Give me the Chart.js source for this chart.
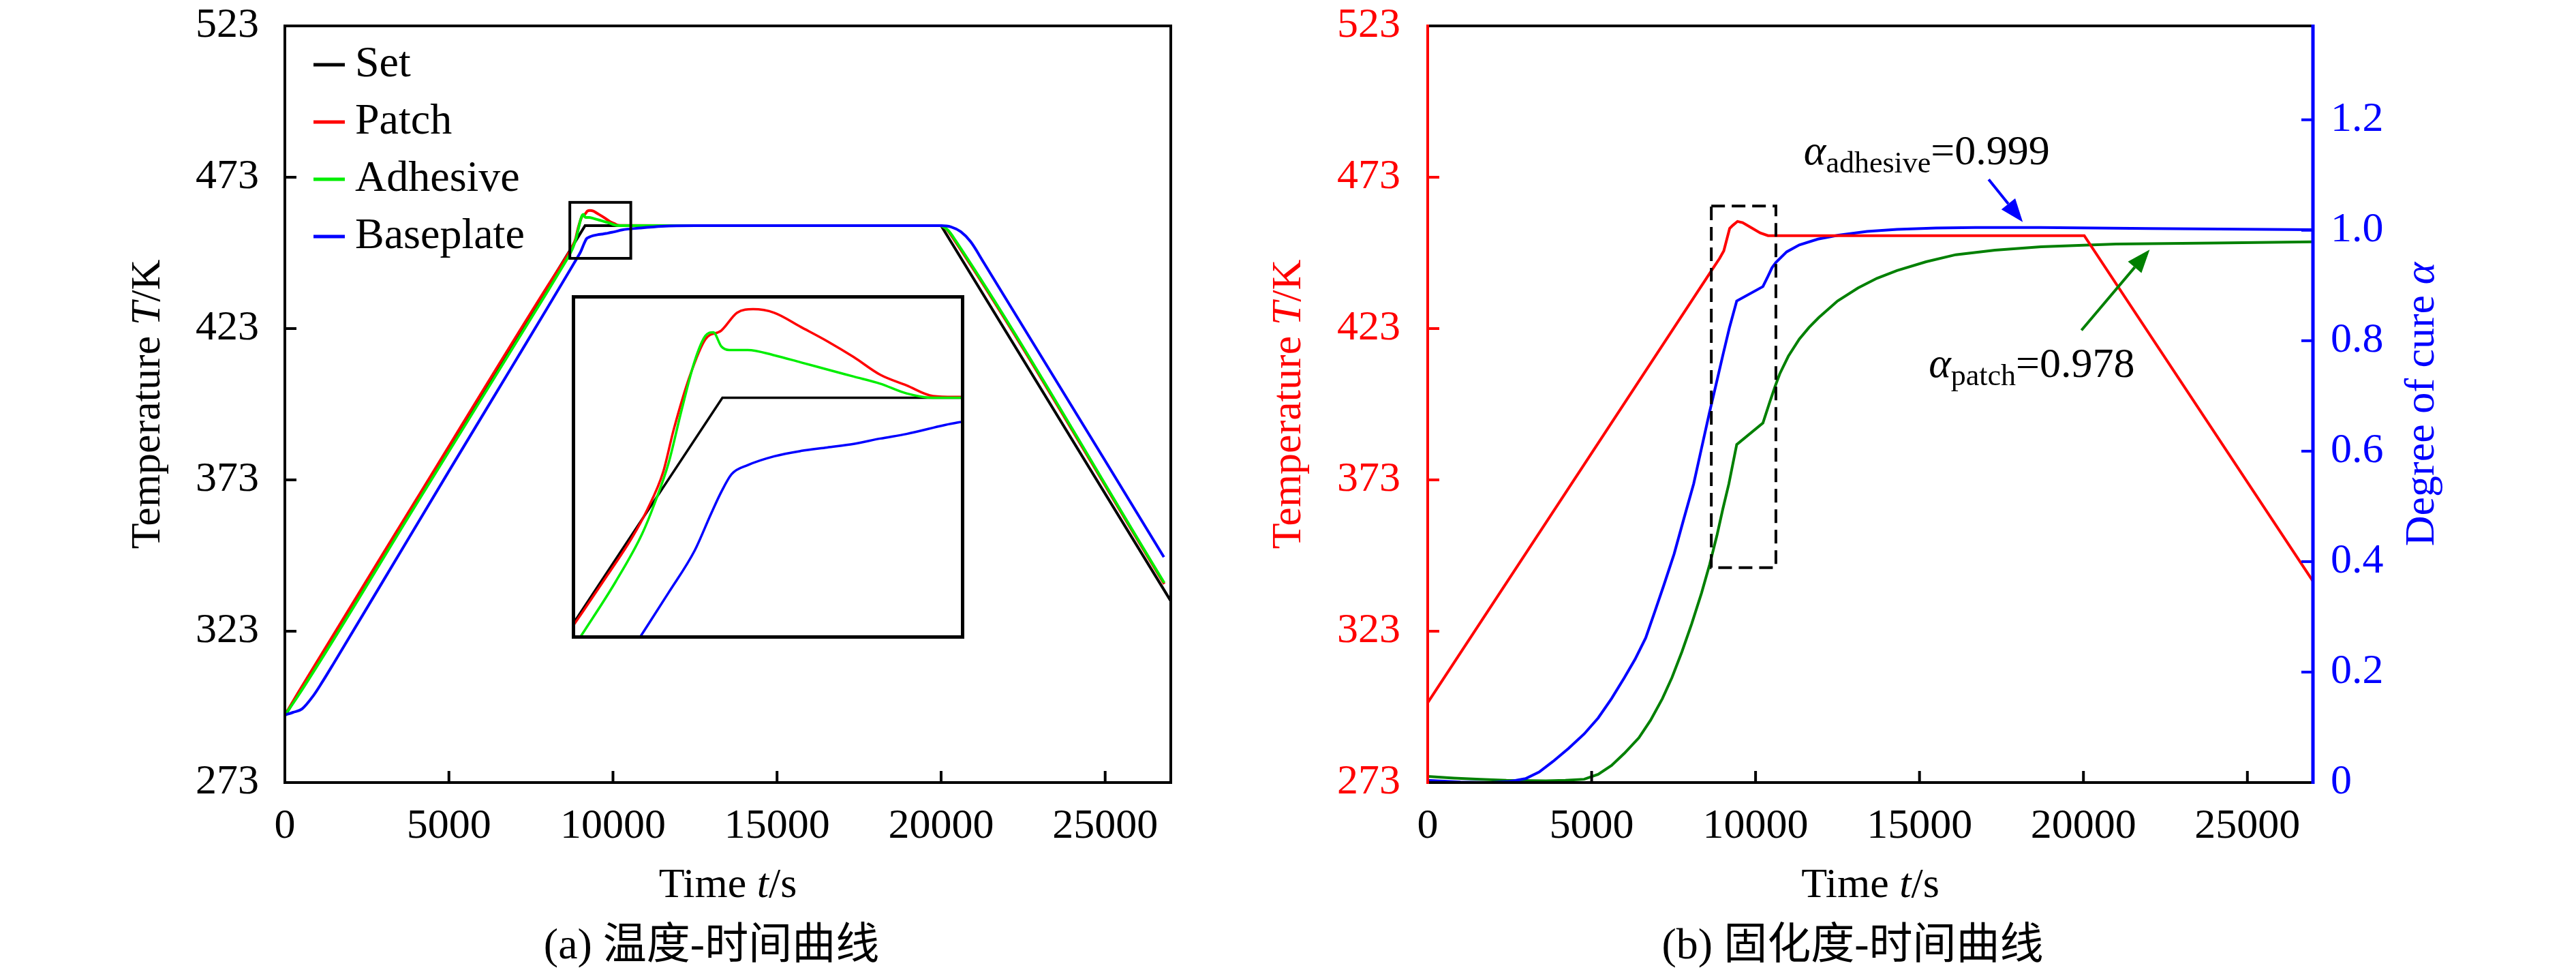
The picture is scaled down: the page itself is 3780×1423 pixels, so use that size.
<!DOCTYPE html>
<html>
<head>
<meta charset="utf-8">
<script src="https://cdn.jsdelivr.net/npm/chart.js@4.4.1/dist/chart.umd.min.js"></script>
<style>
  html, body { margin: 0; padding: 0; background: #fff; }
  body { width: 3780px; height: 1423px; position: relative; overflow: hidden; }
  canvas { position: absolute; }
</style>
</head>
<body>
<canvas id="tempChart" width="1850" height="1423" style="left:0;top:0;"></canvas>
<canvas id="zoomChart" width="576" height="504" style="left:839px;top:433px;"></canvas>
<canvas id="cureChart" width="1980" height="1423" style="left:1800px;top:0;"></canvas>
<script>
// ---- (a) temperature - time ----
var setTime = [0, 9150, 20000, 27000];
var setTemp = [295, 457, 457, 333];

var patchTime = [0, 400, 4000, 8000, 8481, 8596, 8711, 8788, 8864, 8915, 8992, 9068, 9145, 9221, 9298, 9400, 9528, 9655, 9783, 9911, 10038, 10166, 10281, 12000, 19950, 20150, 20400, 26800];
var patchTemp = [295.3, 302.6, 366.4, 436.9, 445.0, 447.0, 449.05, 450.7, 452.8, 455.2, 458.2, 460.3, 460.8, 461.8, 462.0, 461.8, 461.0, 460.2, 459.3, 458.3, 457.7, 457.1, 457.05, 457.0, 457.0, 456.0, 452.3, 338.6];

var adhesiveTime = [0, 400, 4000, 8000, 8487, 8634, 8762, 8825, 8890, 8953, 9017, 9068, 9106, 9145, 9183, 9272, 9400, 9528, 9655, 9783, 9911, 10038, 10166, 12000, 19950, 20200, 20450, 26800];
var adhesiveTemp = [295.3, 301.6, 364.9, 435.2, 443.9, 446.6, 449.3, 451.1, 453.3, 456.3, 459.1, 460.5, 460.7, 459.9, 459.7, 459.7, 459.4, 459.0, 458.6, 458.2, 457.8, 457.25, 457.0, 457.0, 457.0, 455.6, 451.9, 339.0];

var baseTime = [0, 250, 520, 875, 1145, 1500, 3000, 5000, 7000, 8000, 8775, 8890, 9017, 9093, 9145, 9195, 9272, 9400, 9528, 9655, 9783, 9911, 10038, 10281, 10800, 11500, 12500, 20000, 20300, 20600, 20900, 21300, 26790];
var baseTemp = [295.3, 296.2, 297.3, 301.8, 306.3, 312.6, 339.7, 375.9, 411.8, 429.8, 443.9, 446.0, 448.4, 450.4, 451.7, 452.7, 453.2, 453.7, 454.0, 454.2, 454.4, 454.7, 454.96, 455.6, 456.2, 456.8, 457.0, 457.0, 456.6, 455.0, 451.7, 444.8, 347.5];

var seriesNames = ['Set', 'Patch', 'Adhesive', 'Baseplate'];

// tick labels
var timeTicks = [0, 5000, 10000, 15000, 20000, 25000];
var tempTicks = [273, 323, 373, 423, 473, 523];
var cureTicks = [0, 0.2, 0.4, 0.6, 0.8, 1.0, 1.2];

// window shown in the magnified inset, and the small box marking it
var zoomWinTime = [8440, 10300];
var zoomWinTemp = [443.6, 462.6];
var zoomBoxTime = [8685, 10543];
var zoomBoxTemp = [446.2, 464.7];

// ---- (b) degree of cure - time ----
var cureTempTime = [0, 8664, 8903, 9031, 9126, 9210, 9305, 9449, 9604, 9842, 10141, 10380, 20025, 27000];
var cureTempK = [299.4, 442.3, 446.2, 448.7, 452.6, 456.1, 457.1, 458.4, 458.0, 456.5, 454.6, 453.7, 453.7, 339.5];

var alphaAdhTime = [0, 1000, 1909, 2500, 2983, 3400, 3818, 4300, 4772, 5200, 5607, 6000, 6323, 6650, 6919, 7200, 7516, 7800, 8112, 8350, 8590, 8800, 9007, 9200, 9425, 10224, 10380, 10500, 10618, 10950, 11334, 11900, 12527, 13400, 14316, 15500, 16700, 18700, 22000, 27000];
var alphaAdh = [0.004, 0.001, 0.0, 0.002, 0.007, 0.019, 0.038, 0.062, 0.088, 0.117, 0.152, 0.19, 0.223, 0.262, 0.308, 0.357, 0.414, 0.475, 0.541, 0.605, 0.669, 0.722, 0.775, 0.823, 0.872, 0.898, 0.917, 0.932, 0.9415, 0.961, 0.9735, 0.984, 0.991, 0.998, 1.0017, 1.004, 1.005, 1.005, 1.003, 1.001];

var alphaPatchTime = [0, 800, 1600, 2400, 3600, 4200, 4772, 5200, 5607, 6000, 6442, 6800, 7158, 7450, 7755, 8050, 8351, 8600, 8828, 9000, 9186, 9300, 9425, 10224, 10439, 10600, 10737, 11000, 11334, 11630, 11930, 12500, 13123, 13700, 14316, 15200, 16106, 17300, 18706, 21000, 24000, 27000];
var alphaPatch = [0.011, 0.008, 0.006, 0.004, 0.003, 0.004, 0.006, 0.015, 0.031, 0.053, 0.081, 0.113, 0.152, 0.19, 0.237, 0.287, 0.343, 0.395, 0.449, 0.495, 0.541, 0.575, 0.612, 0.651, 0.69, 0.718, 0.74, 0.772, 0.803, 0.824, 0.842, 0.872, 0.8955, 0.913, 0.927, 0.943, 0.9557, 0.964, 0.970, 0.975, 0.977, 0.979];

var cureBoxTime = [8650, 10620];
var cureBoxAlpha = [0.389, 1.044];

var serif = '"Liberation Serif", "Times New Roman", serif';
var cjk = '"Liberation Serif", "Noto Sans CJK SC", sans-serif';

function pts(xs, ys) {
  return xs.map(function (x, i) { return { x: x, y: ys[i] }; });
}

function line(label, xs, ys, color, width, order, axis, smooth) {
  var ds = {
    label: label,
    data: pts(xs, ys),
    borderColor: color,
    backgroundColor: color,
    borderWidth: width,
    pointRadius: 0,
    tension: 0,
    fill: false,
    order: order
  };
  if (axis) ds.yAxisID = axis;
  if (smooth) ds.cubicInterpolationMode = 'monotone';
  return ds;
}

function tempDatasets(width, smooth) {
  return [
    line(seriesNames[0], setTime, setTemp, '#000000', width, 3),
    line(seriesNames[1], patchTime, patchTemp, '#ff0000', width, 2, null, smooth),
    line(seriesNames[2], adhesiveTime, adhesiveTemp, '#00ee00', width, 1, null, smooth),
    line(seriesNames[3], baseTime, baseTemp, '#0000ff', width, 0, null, smooth)
  ];
}

function fontOf(p) {
  return (p.italic ? 'italic ' : '') + (p.size || 62) + 'px ' + (p.family || serif);
}

function drawRich(ctx, parts, x, y, align, angle, color, baseline) {
  ctx.save();
  ctx.translate(x, y);
  if (angle) ctx.rotate(angle);
  ctx.fillStyle = color;
  ctx.textBaseline = baseline || 'alphabetic';
  ctx.textAlign = 'left';
  var w = 0;
  parts.forEach(function (p) { ctx.font = fontOf(p); w += ctx.measureText(p.text).width; });
  var cx = align === 'center' ? -w / 2 : 0;
  parts.forEach(function (p) {
    ctx.font = fontOf(p);
    ctx.fillText(p.text, cx, p.dy || 0);
    cx += ctx.measureText(p.text).width;
  });
  ctx.restore();
}

function seg(ctx, x1, y1, x2, y2, color, width) {
  ctx.beginPath();
  ctx.strokeStyle = color;
  ctx.lineWidth = width;
  ctx.moveTo(x1, y1);
  ctx.lineTo(x2, y2);
  ctx.stroke();
}

// inward tick marks, skipping the ends of the axis
function innerTicks(ctx, chart, scaleId, side, color) {
  var s = chart.scales[scaleId];
  var a = chart.chartArea;
  var len = 17;
  s.ticks.forEach(function (t) {
    if (t.value === s.min || t.value === s.max) return;
    var p = s.getPixelForValue(t.value);
    if (side === 'bottom') seg(ctx, p, a.bottom, p, a.bottom - len, color, 4);
    if (side === 'left') seg(ctx, a.left, p, a.left + len, p, color, 4);
    if (side === 'right') seg(ctx, a.right, p, a.right - len, p, color, 4);
  });
}

function arrow(ctx, x1, y1, x2, y2, color) {
  var ang = Math.atan2(y2 - y1, x2 - x1);
  var head = 34, half = 13;
  var bx = x2 - head * Math.cos(ang), by = y2 - head * Math.sin(ang);
  seg(ctx, x1, y1, bx, by, color, 4);
  ctx.beginPath();
  ctx.fillStyle = color;
  ctx.moveTo(x2, y2);
  ctx.lineTo(bx + half * Math.sin(ang), by - half * Math.cos(ang));
  ctx.lineTo(bx - half * Math.sin(ang), by + half * Math.cos(ang));
  ctx.closePath();
  ctx.fill();
}

var tempDecor = {
  id: 'tempDecor',
  afterDraw: function (chart) {
    var ctx = chart.ctx, a = chart.chartArea;
    var xs = chart.scales.x, ys = chart.scales.y;
    ctx.save();
    // marker box of the magnified region
    ctx.strokeStyle = '#000';
    ctx.lineWidth = 4;
    var bx1 = xs.getPixelForValue(zoomBoxTime[0]), bx2 = xs.getPixelForValue(zoomBoxTime[1]);
    var by1 = ys.getPixelForValue(zoomBoxTemp[1]), by2 = ys.getPixelForValue(zoomBoxTemp[0]);
    ctx.strokeRect(bx1, by1, bx2 - bx1, by2 - by1);
    // frame + ticks
    ctx.strokeRect(a.left, a.top, a.right - a.left, a.bottom - a.top);
    innerTicks(ctx, chart, 'x', 'bottom', '#000');
    innerTicks(ctx, chart, 'y', 'left', '#000');
    // legend
    chart.data.datasets.forEach(function (ds, i) {
      var yy = 95 + i * 84;
      seg(ctx, 460, yy, 506, yy, ds.borderColor, 5);
      drawRich(ctx, [{ text: ds.label, size: 64 }], 521, yy, 'left', 0, '#000', 'middle');
    });
    // titles
    var cx = (a.left + a.right) / 2;
    drawRich(ctx, [{ text: 'Temperature ' }, { text: 'T', italic: true }, { text: '/K' }], 218, (a.top + a.bottom) / 2, 'center', -Math.PI / 2, '#000', 'middle');
    drawRich(ctx, [{ text: 'Time ' }, { text: 't', italic: true }, { text: '/s' }], cx, 1316, 'center', 0, '#000');
    drawRich(ctx, [{ text: '(a) 温度-时间曲线', size: 64, family: cjk }], cx - 24, 1406, 'center', 0, '#000');
    ctx.restore();
  }
};

var zoomFrame = {
  id: 'zoomFrame',
  afterDraw: function (chart) {
    var ctx = chart.ctx;
    ctx.save();
    ctx.strokeStyle = '#000';
    ctx.lineWidth = 5;
    ctx.strokeRect(2.5, 2.5, chart.width - 5, chart.height - 5);
    ctx.restore();
  }
};

var cureDecor = {
  id: 'cureDecor',
  afterDraw: function (chart) {
    var ctx = chart.ctx, a = chart.chartArea;
    var xs = chart.scales.x, ya = chart.scales.yA;
    ctx.save();
    // dashed box
    ctx.setLineDash([20, 10]);
    ctx.strokeStyle = '#000';
    ctx.lineWidth = 4;
    var dx1 = xs.getPixelForValue(cureBoxTime[0]), dx2 = xs.getPixelForValue(cureBoxTime[1]);
    var dy1 = ya.getPixelForValue(cureBoxAlpha[1]), dy2 = ya.getPixelForValue(cureBoxAlpha[0]);
    ctx.strokeRect(dx1, dy1, dx2 - dx1, dy2 - dy1);
    ctx.setLineDash([]);
    // frame: black top/bottom, red left, blue right
    seg(ctx, a.left, a.top, a.right, a.top, '#000', 4);
    seg(ctx, a.left, a.bottom, a.right, a.bottom, '#000', 4);
    seg(ctx, a.left, a.top - 2, a.left, a.bottom + 2, '#ff0000', 4);
    seg(ctx, a.right, a.top - 2, a.right, a.bottom + 2, '#0000ff', 5);
    innerTicks(ctx, chart, 'x', 'bottom', '#000');
    innerTicks(ctx, chart, 'yT', 'left', '#ff0000');
    innerTicks(ctx, chart, 'yA', 'right', '#0000ff');
    // annotations
    drawRich(ctx, [{ text: 'α', italic: true }, { text: 'adhesive', size: 44, dy: 12 }, { text: '=0.999' }],
      xs.getPixelForValue(11470), ya.getPixelForValue(1.12), 'left', 0, '#000');
    arrow(ctx, xs.getPixelForValue(17110), ya.getPixelForValue(1.092), xs.getPixelForValue(18150), ya.getPixelForValue(1.015), '#0000ff');
    drawRich(ctx, [{ text: 'α', italic: true }, { text: 'patch', size: 44, dy: 12 }, { text: '=0.978' }],
      xs.getPixelForValue(15280), ya.getPixelForValue(0.734), 'left', 0, '#000');
    arrow(ctx, xs.getPixelForValue(19940), ya.getPixelForValue(0.819), xs.getPixelForValue(22020), ya.getPixelForValue(0.965), '#008000');
    // titles
    var cx = (a.left + a.right) / 2, cy = (a.top + a.bottom) / 2;
    drawRich(ctx, [{ text: 'Temperature ' }, { text: 'T', italic: true }, { text: '/K' }], 92, cy, 'center', -Math.PI / 2, '#ff0000', 'middle');
    drawRich(ctx, [{ text: 'Degree of cure ' }, { text: 'α', italic: true }], 1755, cy, 'center', -Math.PI / 2, '#0000ff', 'middle');
    drawRich(ctx, [{ text: 'Time ' }, { text: 't', italic: true }, { text: '/s' }], cx, 1316, 'center', 0, '#000');
    drawRich(ctx, [{ text: '(b) 固化度-时间曲线', size: 64, family: cjk }], cx - 26, 1406, 'center', 0, '#000');
    ctx.restore();
  }
};

function tickFont() { return { family: serif, size: 62 }; }
var noGrid = { display: false, drawTicks: false };

function fixedTicks(values) {
  return function (s) { s.ticks = values.map(function (v) { return { value: v }; }); };
}

// fixed axis thickness, no extra edge padding from the labels
function fitWidth(w) {
  return function (s) { s.width = w; s.paddingTop = 0; s.paddingBottom = 0; };
}
function fitHeight(h) {
  return function (s) { s.height = h; s.paddingLeft = 0; s.paddingRight = 0; };
}

function timeAxis() {
  return {
    type: 'linear', min: 0, max: 27000,
    afterFit: fitHeight(275),
    afterBuildTicks: fixedTicks(timeTicks),
    grid: noGrid, border: { display: false },
    ticks: {
      autoSkip: false, maxRotation: 0, padding: 28,
      color: '#000', font: tickFont(),
      callback: function (v) { return String(v); }
    }
  };
}

var baseOptions = {
  responsive: false,
  animation: false,
  devicePixelRatio: 1,
  plugins: { legend: { display: false }, tooltip: { enabled: false } }
};

new Chart(document.getElementById('tempChart'), {
  type: 'line',
  data: { datasets: tempDatasets(4, true) },
  options: Object.assign({}, baseOptions, {
    layout: { padding: { top: 38, right: 132, left: 0, bottom: 0 } },
    scales: {
      x: timeAxis(),
      y: {
        min: 273, max: 523,
        afterFit: fitWidth(418),
        afterBuildTicks: fixedTicks(tempTicks),
        grid: noGrid, border: { display: false },
        ticks: { autoSkip: false, padding: 38, color: '#000', font: tickFont(), callback: function (v) { return String(v); } }
      }
    }
  }),
  plugins: [tempDecor]
});

new Chart(document.getElementById('zoomChart'), {
  type: 'line',
  data: { datasets: tempDatasets(3.5, true) },
  options: Object.assign({}, baseOptions, {
    layout: { padding: 5 },
    scales: {
      x: { type: 'linear', display: false, min: zoomWinTime[0], max: zoomWinTime[1] },
      y: { display: false, min: zoomWinTemp[0], max: zoomWinTemp[1] }
    }
  }),
  plugins: [zoomFrame]
});

new Chart(document.getElementById('cureChart'), {
  type: 'line',
  data: {
    datasets: [
      line('Patch temperature', cureTempTime, cureTempK, '#ff0000', 4, 0, 'yT'),
      line('Adhesive', alphaAdhTime, alphaAdh, '#0000ff', 4, 1, 'yA'),
      line('Patch', alphaPatchTime, alphaPatch, '#008000', 4, 2, 'yA')
    ]
  },
  options: Object.assign({}, baseOptions, {
    layout: { padding: { top: 38, right: 0, left: 0, bottom: 0 } },
    scales: {
      x: timeAxis(),
      yT: {
        position: 'left', min: 273, max: 523,
        afterFit: fitWidth(295),
        afterBuildTicks: fixedTicks(tempTicks),
        grid: noGrid, border: { display: false },
        ticks: { autoSkip: false, padding: 40, color: '#ff0000', font: tickFont(), callback: function (v) { return String(v); } }
      },
      yA: {
        position: 'right', min: 0, max: 1.37,
        afterFit: fitWidth(386),
        afterBuildTicks: fixedTicks(cureTicks),
        grid: noGrid, border: { display: false },
        ticks: {
          autoSkip: false, padding: 26, color: '#0000ff', font: tickFont(),
          callback: function (v) { return v === 0 ? '0' : v.toFixed(1); }
        }
      }
    }
  }),
  plugins: [cureDecor]
});
</script>
</body>
</html>
